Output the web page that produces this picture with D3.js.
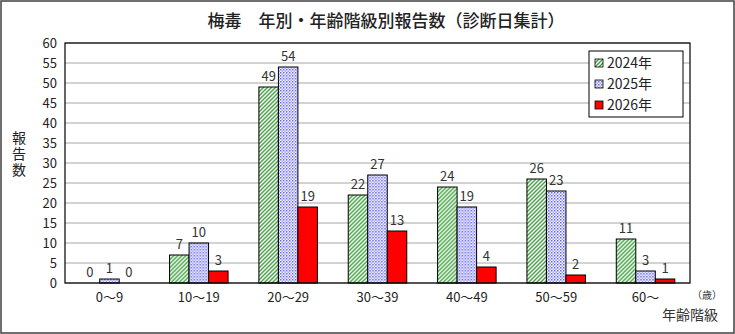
<!DOCTYPE html>
<html>
<head>
<meta charset="utf-8">
<script src="https://cdn.jsdelivr.net/npm/d3@7"></script>
<style>
  body { margin: 0; background: #fff; }
  svg { display: block; font-family: "Noto Sans CJK JP", "Noto Sans", sans-serif; }
</style>
</head>
<body>
<svg id="chart"></svg>
<script>
var categories = ["0～9", "10～19", "20～29", "30～39", "40～49", "50～59", "60～"];
var seriesNames = ["2024年", "2025年", "2026年"];
var y2024 = [0, 7, 49, 22, 24, 26, 11];
var y2025 = [1, 10, 54, 27, 19, 23, 3];
var y2026 = [0, 3, 19, 13, 4, 2, 1];
var yTicks = [0, 5, 10, 15, 20, 25, 30, 35, 40, 45, 50, 55, 60];

var series = [y2024, y2025, y2026];
var fills = ["url(#hatch)", "url(#checker)", "#ff0000"];

var width = 735, height = 334;
var margin = {top: 43, right: 45, bottom: 51, left: 65};

var svg = d3.select("#chart").attr("width", width).attr("height", height);

// patterns for the 2024 / 2025 bars
var defs = svg.append("defs");
var hatch = defs.append("pattern")
    .attr("id", "hatch")
    .attr("patternUnits", "userSpaceOnUse")
    .attr("width", 4).attr("height", 4);
hatch.append("rect").attr("width", 4).attr("height", 4).attr("fill", "#fff");
hatch.append("path")
    .attr("d", "M-1,1 l2,-2 M0,4 l4,-4 M3,5 l2,-2")
    .attr("stroke", "#3f9f3f")
    .attr("stroke-width", 1.4);

var checker = defs.append("pattern")
    .attr("id", "checker")
    .attr("patternUnits", "userSpaceOnUse")
    .attr("width", 3).attr("height", 3);
checker.append("rect").attr("width", 3).attr("height", 3).attr("fill", "#fff");
checker.append("rect").attr("x", 0).attr("y", 0).attr("width", 1.5).attr("height", 1.5).attr("fill", "#5c5cf0");
checker.append("rect").attr("x", 1.5).attr("y", 1.5).attr("width", 1.5).attr("height", 1.5).attr("fill", "#9c9cf5");

// outer frame
svg.append("rect")
    .attr("x", 1).attr("y", 1)
    .attr("width", width - 2).attr("height", height - 2)
    .attr("fill", "none")
    .attr("stroke", "#404040")
    .attr("stroke-width", 1.5);

var x = d3.scaleBand()
    .domain(categories)
    .range([margin.left, width - margin.right])
    .paddingInner(0.345)
    .paddingOuter(0.17);

var xSub = d3.scaleBand()
    .domain(d3.range(series.length))
    .range([0, x.bandwidth()]);

var y = d3.scaleLinear()
    .domain([0, 60])
    .range([height - margin.bottom, margin.top]);

// title
svg.append("text")
    .attr("x", 386).attr("y", 27)
    .attr("text-anchor", "middle")
    .attr("font-size", 17)
    .attr("font-weight", 500)
    .attr("fill", "#222")
    .text("梅毒　年別・年齢階級別報告数（診断日集計）");

// gridlines
svg.append("g")
    .selectAll("line")
    .data(yTicks)
    .join("line")
    .attr("x1", margin.left).attr("x2", width - margin.right)
    .attr("y1", d => y(d)).attr("y2", d => y(d))
    .attr("stroke", "#a6a6a6")
    .attr("stroke-width", 1);

// y axis labels
var yAxis = svg.append("g")
    .attr("transform", "translate(" + margin.left + ",0)")
    .call(d3.axisLeft(y).tickValues(yTicks).tickSize(0).tickPadding(8));
yAxis.select(".domain").remove();
yAxis.selectAll("text")
    .attr("font-size", 13)
    .attr("fill", "#222")
    .attr("font-family", "\"Noto Sans CJK JP\", sans-serif");

// x axis labels
var xAxis = svg.append("g")
    .attr("transform", "translate(0," + (height - margin.bottom) + ")")
    .call(d3.axisBottom(x).tickSize(0).tickPadding(10));
xAxis.select(".domain").remove();
xAxis.selectAll("text")
    .attr("font-size", 13)
    .attr("fill", "#222")
    .attr("font-family", "\"Noto Sans CJK JP\", sans-serif");

// bars
var groups = svg.append("g")
    .selectAll("g")
    .data(categories)
    .join("g")
    .attr("transform", d => "translate(" + x(d) + ",0)");

groups.selectAll("rect")
    .data((d, i) => series.map((s, k) => ({k: k, v: s[i]})))
    .join("rect")
    .filter(d => d.v > 0)
    .attr("x", d => xSub(d.k))
    .attr("y", d => y(d.v))
    .attr("width", xSub.bandwidth())
    .attr("height", d => y(0) - y(d.v))
    .attr("fill", d => fills[d.k])
    .attr("stroke", "#000")
    .attr("stroke-width", 1);

groups.selectAll("text")
    .data((d, i) => series.map((s, k) => ({k: k, v: s[i]})))
    .join("text")
    .attr("x", d => xSub(d.k) + xSub.bandwidth() / 2)
    .attr("y", d => y(d.v) - 6)
    .attr("text-anchor", "middle")
    .attr("font-size", 13)
    .attr("fill", "#333")
    .text(d => d.v);

// plot border
svg.append("rect")
    .attr("x", margin.left).attr("y", margin.top)
    .attr("width", width - margin.left - margin.right)
    .attr("height", height - margin.top - margin.bottom)
    .attr("fill", "none")
    .attr("stroke", "#000")
    .attr("stroke-width", 1.2);

// y axis title, written top to bottom
svg.append("text")
    .attr("x", 19).attr("y", 131)
    .attr("writing-mode", "vertical-rl")
    .attr("letter-spacing", 2)
    .attr("font-size", 14)
    .attr("fill", "#222")
    .text("報告数");

// x axis title
svg.append("text")
    .attr("x", 707).attr("y", 299)
    .attr("text-anchor", "middle")
    .attr("font-size", 10)
    .attr("fill", "#333")
    .text("（歳）");
svg.append("text")
    .attr("x", 690).attr("y", 320)
    .attr("text-anchor", "middle")
    .attr("font-size", 14)
    .attr("fill", "#333")
    .text("年齢階級");

// legend
var legend = svg.append("g").attr("transform", "translate(589,51)");
legend.append("rect")
    .attr("width", 94).attr("height", 66)
    .attr("fill", "#fff")
    .attr("stroke", "#000")
    .attr("stroke-width", 1);
var items = legend.selectAll("g.item")
    .data(seriesNames)
    .join("g")
    .attr("class", "item")
    .attr("transform", (d, i) => "translate(6," + (12 + i * 21) + ")");
items.append("rect")
    .attr("x", 0).attr("y", -4)
    .attr("width", 8).attr("height", 8)
    .attr("fill", (d, i) => fills[i])
    .attr("stroke", "#000")
    .attr("stroke-width", 0.8);
items.append("text")
    .attr("x", 12).attr("y", 5)
    .attr("font-size", 14)
    .attr("fill", "#222")
    .text(d => d);
</script>
</body>
</html>
